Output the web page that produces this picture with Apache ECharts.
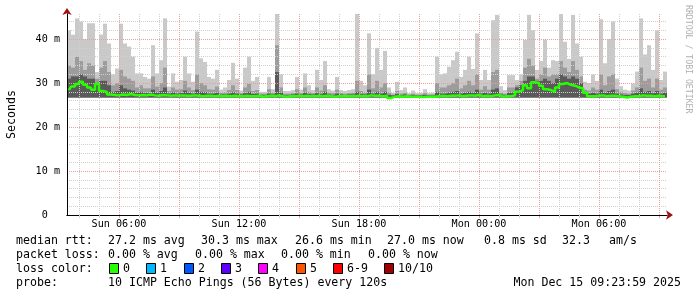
<!DOCTYPE html>
<html><head><meta charset="utf-8">
<script src="https://cdn.jsdelivr.net/npm/echarts@6/dist/echarts.min.js"></script>
<style>html,body{margin:0;padding:0;background:#fff}#c{width:697px;height:297px}</style>
</head><body><div id="c"></div>
<script>
// ---- time frame (hours since Sun 00:00) ----
const startHour = 3.4;     // Sun 03:24
const endHour = 33.4;      // Mon 09:24
const gridStartHour = 3;   // first whole hour used to count grid lines
const stepHours = 0.2;     // one column = 12 minutes
const yMax = 45.7;         // ms
const smokeFloor = 26.7;   // ms, lowest ping

// ---- smoke (ms): outer top, middle band top, inner band top ----
const smokeMax = [
 42.0,41.0,44.7,44.0,40.0,43.6,43.6,32.5,41.0,43.5,
 39.0,32.0,33.3,43.5,39.0,38.3,36.0,32.2,32.2,31.4,
 31.0,38.6,32.2,35.2,44.7,29.2,32.2,30.3,30.7,36.0,
 32.2,30.3,41.7,35.6,34.8,31.4,31.0,33.0,28.5,29.0,
 30.7,34.6,31.0,28.3,33.5,36.0,30.5,31.4,28.0,28.0,
 31.4,28.6,45.7,32.0,28.2,28.2,28.4,31.4,28.5,32.2,
 29.5,28.4,33.0,30.7,35.0,28.6,28.3,31.4,28.4,28.2,
 28.4,28.6,45.7,30.5,29.5,41.3,32.0,38.0,33.0,37.3,
 29.0,27.8,30.3,28.4,29.0,27.7,28.3,27.7,27.8,28.6,
 27.7,27.8,36.0,32.0,32.2,33.7,35.2,37.1,31.4,33.0,
 36.0,33.2,41.3,30.7,33.0,30.7,44.3,45.5,29.3,28.4,
 31.8,31.8,30.7,32.0,39.8,45.5,42.0,33.0,35.0,39.9,
 33.5,35.2,35.0,45.8,39.4,35.5,45.5,39.0,36.0,30.3,
 30.0,32.0,30.5,44.5,34.5,40.0,44.0,31.0,29.3,28.5,
 28.3,29.9,32.6,44.7,36.5,38.6,33.0,42.0,30.7,32.6
];
const smokeMid = [
 34.0,33.5,36.0,35.0,33.0,34.5,34.0,31.0,33.5,35.0,
 32.5,29.5,30.0,33.0,31.5,31.0,30.5,29.0,29.5,28.8,
 28.8,31.5,29.2,30.0,33.5,28.2,29.0,28.5,28.6,30.5,
 29.0,28.4,32.0,30.0,29.5,28.6,28.5,29.2,27.8,27.9,
 28.4,29.5,28.4,27.7,29.0,29.8,28.2,28.4,27.6,27.6,
 28.6,27.8,38.6,29.0,27.6,27.6,27.7,28.6,27.7,29.0,
 28.0,27.7,29.0,28.3,29.5,27.8,27.7,28.5,27.7,27.6,
 27.7,27.8,30.5,28.2,27.9,32.0,28.8,30.5,29.0,30.0,
 27.8,27.4,28.2,27.6,27.8,27.4,27.6,27.4,27.4,27.7,
 27.4,27.4,30.0,29.0,29.0,29.5,30.0,31.0,28.8,29.5,
 30.5,29.5,32.0,28.5,29.3,28.5,32.5,33.0,27.8,27.6,
 29.0,29.0,29.5,30.5,33.5,35.5,34.0,31.0,32.0,33.5,
 31.5,32.0,32.0,35.0,33.5,32.5,35.0,33.0,31.5,28.5,
 28.3,29.0,28.5,32.0,29.5,31.5,32.0,28.6,28.0,27.7,
 27.6,28.3,29.0,33.5,30.5,31.0,29.0,31.0,28.5,29.0
];
const smokeDark = [
 31.0,31.5,31.5,32.0,31.5,31.0,31.0,30.0,30.5,30.5,
 29.5,28.0,28.2,29.5,28.8,28.5,28.3,27.8,28.0,27.7,
 27.7,28.5,27.8,28.2,29.0,27.6,27.9,27.6,27.7,28.3,
 27.8,27.6,28.5,28.0,27.9,27.6,27.6,27.8,27.4,27.4,
 27.6,27.9,27.6,27.4,27.7,28.0,27.5,27.6,27.3,27.3,
 27.6,27.4,32.5,27.8,27.3,27.3,27.4,27.6,27.4,27.8,
 27.5,27.4,27.7,27.5,28.0,27.4,27.3,27.6,27.4,27.3,
 27.4,27.4,28.0,27.5,27.4,28.5,27.6,28.0,27.6,28.0,
 27.3,27.2,27.5,27.3,27.4,27.2,27.3,27.2,27.2,27.3,
 27.2,27.2,28.0,27.6,27.6,27.8,28.0,28.2,27.6,27.8,
 28.0,27.8,28.5,27.6,27.8,27.6,28.5,28.8,27.4,27.3,
 27.8,27.8,29.0,29.5,30.5,31.5,31.5,30.5,30.5,31.0,
 30.5,30.0,31.0,32.0,31.5,31.0,31.5,31.0,30.0,28.0,
 27.6,27.8,27.6,28.5,27.8,28.2,28.5,27.6,27.4,27.3,
 27.3,27.6,27.8,28.8,28.0,28.2,27.7,28.2,27.6,27.8
];
// ---- median rtt (ms) ----
const medianRtt = [
 28.4,29.2,29.8,30.3,29.6,29.0,28.5,29.8,28.2,28.0,
 27.4,27.3,27.2,27.4,27.3,27.5,27.3,27.2,27.3,27.2,
 27.4,27.2,27.1,27.3,27.2,27.1,27.2,27.1,27.2,27.1,
 27.1,27.2,27.1,27.0,27.1,27.1,27.0,27.1,27.0,27.1,
 27.0,27.1,27.0,27.0,27.1,27.0,27.0,27.1,26.9,27.0,
 27.1,27.0,27.2,27.0,26.9,27.0,27.0,27.1,27.0,27.1,
 27.0,27.0,27.1,27.0,27.1,27.0,26.9,27.0,27.0,27.0,
 27.0,27.0,27.1,27.0,27.0,27.2,27.1,27.1,27.0,27.1,
 26.6,26.9,27.0,26.9,27.0,26.9,26.9,26.9,26.8,26.9,
 26.9,26.9,27.0,27.1,27.0,27.1,27.1,27.2,27.0,27.1,
 27.2,27.1,27.3,27.0,27.1,27.0,27.2,27.3,26.9,27.0,
 27.0,27.2,28.0,28.4,29.5,28.8,30.2,30.0,29.4,28.6,
 28.4,28.0,29.0,29.8,30.0,29.6,29.4,29.0,28.8,27.8,
 27.0,27.0,27.1,27.2,27.0,27.1,27.1,27.0,26.9,26.7,
 26.9,27.0,27.0,27.2,27.1,27.1,27.0,27.1,27.0,27.0
];

// ---- axes ----
const timeLabelHours = [6, 12, 18, 24, 30];
const timeLabels = ['Sun 06:00', 'Sun 12:00', 'Sun 18:00', 'Mon 00:00', 'Mon 06:00'];
const minorHourTicks = [4,5,7,8,10,11,13,14,16,17,19,20,22,23,25,26,28,29,31,32];
const majorHourTicks = [6,9,12,15,18,21,24,27,30,33];
const minorHourStep = 1, majorHourStep = 3;
const minorMsStep = 2, majorMsStep = 10;
const yLabelValues = [0,10,20,30,40];
const yLabels = ['0  ','10 m','20 m','30 m','40 m'];

// ---- legend texts ----
const rttStats = ['27.2 ms avg','30.3 ms max','26.6 ms min','27.0 ms now','0.8 ms sd','32.3','am/s'];
const lossStats = ['0.00 % avg','0.00 % max','0.00 % min','0.00 % now'];
const lossNames = ['0','1','2','3','4','5','6-9','10/10'];
const lossColors = ['#26ff00','#00b8ff','#0059ff','#5e00ff','#ff00ff','#ff5500','#ff0000','#a00000'];
const probeText = '10 ICMP Echo Pings (56 Bytes) every 120s';
const stampText = 'Mon Dec 15 09:23:59 2025';

const MONO = '"DejaVu Sans Mono", monospace';
const FS = 11.6;      // legend / unit font
const FS_AXIS = 10.15; // axis tick labels

function bandSeries(tops, color, z) {
  return {
    type: 'custom', xAxisIndex: 0, yAxisIndex: 0, z: z, silent: true, clip: true,
    data: tops.map((v, i) => [startHour + i * stepHours, smokeFloor, v]),
    encode: { x: 0, y: [1, 2] },
    renderItem: function (params, api) {
      const t = api.value(0);
      const a = api.coord([t, api.value(1)]);
      const b = api.coord([t + stepHours, api.value(2)]);
      return { type: 'rect', shape: { x: a[0], y: b[1], width: b[0] - a[0], height: a[1] - b[1] },
               style: { fill: color } };
    }
  };
}

function txt(t, x, y, align) {
  return { type: 'text', x: x, y: y, z: 10,
    style: { text: t, font: FS + 'px ' + MONO, fill: '#000', align: align || 'left', verticalAlign: 'middle' } };
}

const rttX = [108, 201, 295, 387, 484, 562, 609];
const lossX = [108, 195, 281, 368];
const boxX = [109, 146, 184, 221, 258, 296, 333, 384];

const graphics = [];
graphics.push(txt('median rtt:', 16, 241));
rttStats.forEach((s, i) => graphics.push(txt(s, rttX[i], 241)));
graphics.push(txt('packet loss:', 16, 255));
lossStats.forEach((s, i) => graphics.push(txt(s, lossX[i], 255)));
graphics.push(txt('loss color:', 16, 269));
lossNames.forEach((s, i) => {
  graphics.push({ type: 'rect', z: 10, shape: { x: boxX[i] + 0.5, y: 263.5, width: 9, height: 10 },
    style: { fill: lossColors[i], stroke: '#000', lineWidth: 1 } });
  graphics.push(txt(s, boxX[i] + 14, 269));
});
graphics.push(txt('probe:', 16, 283));
graphics.push(txt(probeText, 108, 283));
graphics.push(txt(stampText, 681, 283, 'right'));
graphics.push({ type: 'text', x: 692, y: 5, rotation: -Math.PI / 2, z: 10,
  style: { text: 'RRDTOOL / TOBI OETIKER', font: '8.2px ' + MONO, fill: '#b0b0b0', align: 'left', verticalAlign: 'top' } });

const GREY = '#d0d0d0', RED = '#eba0a0';
const gridGrey = { color: GREY, type: [1, 1], width: 1 };
const gridRed = { color: RED, type: [1, 1], width: 1 };
const AX = '#a01010';

const chart = echarts.init(document.getElementById('c'), null, { renderer: 'canvas' });
chart.setOption({
  animation: false,
  backgroundColor: '#ffffff',
  grid: [
    { left: 67, right: 30, top: 14, bottom: 82, containLabel: false, outerBoundsMode: 'none' },
    { left: 59, right: 30, top: 14, bottom: 82, containLabel: false, outerBoundsMode: 'none' }
  ],
  xAxis: [
    { gridIndex: 0, type: 'value', min: startHour, max: endHour, position: 'bottom', z: 6,
      axisLine: { show: true, lineStyle: { color: '#000', width: 1 } },
      axisTick: { show: true, length: 3, customValues: minorHourTicks, lineStyle: { color: GREY } },
      axisLabel: { customValues: timeLabelHours, margin: 4, color: '#000', fontFamily: MONO, fontSize: FS_AXIS,
        formatter: v => timeLabels[timeLabelHours.indexOf(v)] || '' },
      splitLine: { show: false } },
    { gridIndex: 0, type: 'value', min: startHour, max: endHour, position: 'bottom', z: 5,
      axisLine: { show: true, symbol: ['none', 'arrow'], symbolSize: [7, 7], symbolOffset: [0, 6],
        lineStyle: { color: AX, width: 1 } },
      axisTick: { show: true, length: 3, customValues: majorHourTicks, lineStyle: { color: RED } },
      axisLabel: { show: false }, splitLine: { show: false } },
    { gridIndex: 1, type: 'value', min: gridStartHour, max: endHour, interval: minorHourStep, z: 3,
      axisLine: { show: false }, axisTick: { show: false }, axisLabel: { show: false },
      splitLine: { show: true, showMinLine: false, showMaxLine: false, lineStyle: gridGrey } },
    { gridIndex: 1, type: 'value', min: gridStartHour, max: endHour, interval: majorHourStep, z: 4,
      axisLine: { show: false }, axisTick: { show: false }, axisLabel: { show: false },
      splitLine: { show: true, showMinLine: false, showMaxLine: false, lineStyle: gridRed } }
  ],
  yAxis: [
    { gridIndex: 0, type: 'value', min: 0, max: yMax, interval: minorMsStep, position: 'left', z: 3,
      axisLine: { show: false }, axisTick: { show: false }, axisLabel: { show: false },
      splitLine: { show: true, showMinLine: false, showMaxLine: false, lineStyle: gridGrey } },
    { gridIndex: 0, type: 'value', min: 0, max: yMax, interval: majorMsStep, position: 'left', z: 4,
      axisLine: { show: true, symbol: ['none', 'arrow'], symbolSize: [7, 7], symbolOffset: [0, 6],
        lineStyle: { color: AX, width: 1 } },
      axisTick: { show: false }, axisLabel: { show: false },
      splitLine: { show: true, showMinLine: false, showMaxLine: false, lineStyle: gridRed } },
    { gridIndex: 0, type: 'value', min: 0, max: yMax, position: 'left', z: 6,
      axisLine: { show: true, lineStyle: { color: '#000', width: 1 } },
      axisTick: { show: false },
      axisLabel: { customValues: yLabelValues, margin: 7, color: '#000', fontFamily: MONO, fontSize: FS_AXIS,
        formatter: v => yLabels[yLabelValues.indexOf(v)] || '' },
      splitLine: { show: false },
      name: 'Seconds', nameLocation: 'middle', nameGap: 49, nameRotate: 90,
      nameTextStyle: { color: '#000', fontFamily: MONO, fontSize: FS } },
    { gridIndex: 1, type: 'value', min: 0, max: yMax, show: false }
  ],
  series: [
    bandSeries(smokeMax, '#c9c9c9', 1),
    bandSeries(smokeMid, '#9c9c9c', 1),
    bandSeries(smokeDark, '#5a5a5a', 1),
    { type: 'line', xAxisIndex: 0, yAxisIndex: 0, z: 7, silent: true, step: 'middle',
      data: medianRtt.map((v, i) => [startHour + (i + 0.5) * stepHours, v]),
      symbol: 'none', lineStyle: { color: '#26ff00', width: 2.5 } }
  ],
  graphic: graphics
});
</script></body></html>
